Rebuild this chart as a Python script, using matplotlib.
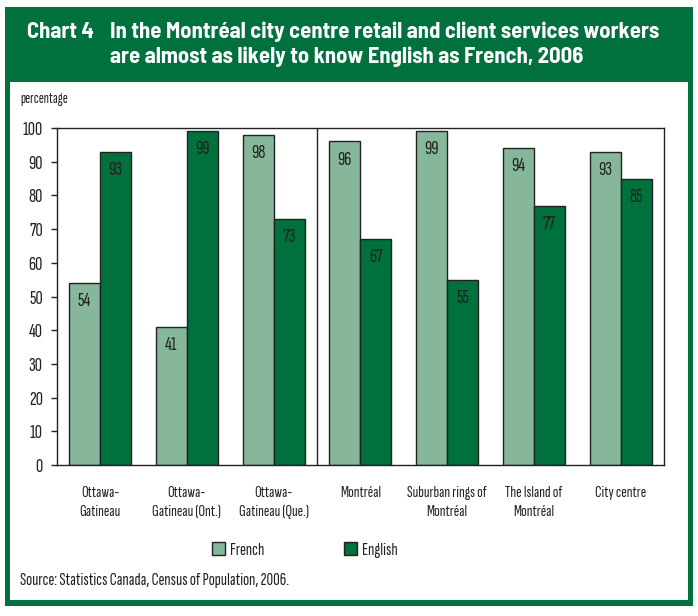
import numpy as np
import matplotlib
matplotlib.use('Agg')
import matplotlib.pyplot as plt
from matplotlib.patches import Rectangle

categories = ['Ottawa-\nGatineau', 'Ottawa-\nGatineau (Ont.)', 'Ottawa-\nGatineau (Que.)',
              'Montréal', 'Suburban rings of\nMontréal', 'The Island of\nMontréal', 'City centre']
french = [54, 41, 98, 96, 99, 94, 93]
english = [93, 99, 73, 67, 55, 77, 85]
yticks = list(range(0, 101, 10))

plt.rcParams['font.family'] = ['Sofia Sans Extra Condensed', 'Fira Sans Extra Condensed',
                               'Liberation Sans Narrow', 'DejaVu Sans']
plt.rcParams['font.weight'] = 'medium'
TITLE_FONT = ['Barlow Semi Condensed', 'Fira Sans Extra Condensed', 'DejaVu Sans']

DARK = '#00703c'
LIGHT = '#86b79b'
EDGE = '#222222'
TXT = '#222222'

W, H = 698, 616
fig = plt.figure(figsize=(W / 100, H / 100), dpi=100)

# frame: green band on top and a green border round the white area
fig.patches.append(Rectangle((5 / W, 1 - 606 / H), 688 / W, 599 / H, transform=fig.transFigure,
                             facecolor=DARK, edgecolor='none', zorder=-10))
fig.patches.append(Rectangle((10 / W, 1 - 600 / H), 678 / W, 518 / H, transform=fig.transFigure,
                             facecolor='white', edgecolor='none', zorder=-9))

title_kw = dict(color='white', fontsize=16.3, fontweight='bold', va='center', family=TITLE_FONT)
fig.text(27 / W, 1 - 32 / H, 'Chart 4', **title_kw)
fig.text(110 / W, 1 - 32 / H, 'In the Montréal city centre retail and client services workers', **title_kw)
fig.text(110 / W, 1 - 57 / H, 'are almost as likely to know English as French, 2006', **title_kw)

fig.text(20 / W, 1 - 99 / H, 'percentage', color=TXT, fontsize=11, va='center')

ax = fig.add_axes([56.7 / W, 1 - 465 / H, (664 - 56.7) / W, (465 - 128) / H])
x = np.arange(len(categories))
bw = 0.357
b1 = ax.bar(x - bw / 2, french, bw, color=LIGHT, edgecolor=EDGE, linewidth=1, label='French')
b2 = ax.bar(x + bw / 2, english, bw, color=DARK, edgecolor=EDGE, linewidth=1, label='English')
for bars, vals in ((b1, french), (b2, english)):
    for b, v in zip(bars, vals):
        ax.annotate(str(v), (b.get_x() + b.get_width() / 2, v), xytext=(0, -13),
                    textcoords='offset points', ha='center', va='center', fontsize=14.5, color=TXT)

ax.axvline(2.5, color=EDGE, linewidth=1)
ax.set_xlim(-0.5, len(categories) - 0.5)
ax.set_ylim(0, 100)
ax.set_yticks(yticks)
ax.set_yticklabels([str(t) for t in yticks], fontsize=14.5, color=TXT)
ax.tick_params(axis='y', length=4, width=1, color=EDGE, pad=6)
ax.set_xticks(x)
ax.set_xticklabels(categories, fontsize=12, color=TXT, va='top', linespacing=1.45)
ax.tick_params(axis='x', length=0, pad=15)
for s in ax.spines.values():
    s.set_color(EDGE)
    s.set_linewidth(1)

leg = fig.legend(handles=[b1, b2], labels=['French', 'English'], loc='center', ncol=2,
                 bbox_to_anchor=(305 / W, 1 - 550 / H), frameon=False, fontsize=13,
                 handlelength=0.7, handleheight=0.7, handletextpad=0.3, columnspacing=4.4)
for t in leg.get_texts():
    t.set_color(TXT)

fig.text(20 / W, 1 - 580 / H, 'Source: Statistics Canada, Census of Population, 2006.',
         color=TXT, fontsize=13, va='center')

fig.savefig('out.png', dpi=100)
